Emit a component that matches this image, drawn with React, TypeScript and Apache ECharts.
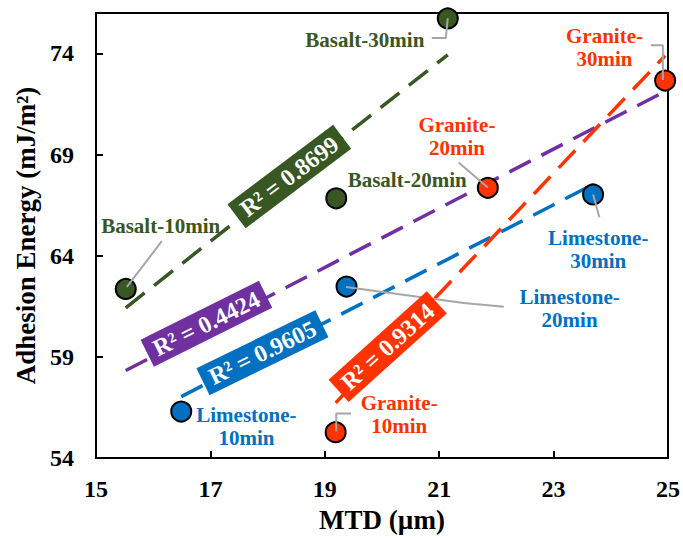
import React, { useEffect, useRef } from "react";
import * as echarts from "echarts";

// ---- data ----
const basaltX = [15.52, 19.2, 21.15];
const basaltY = [62.36, 66.84, 75.73];
const graniteX = [19.19, 21.85, 24.95];
const graniteY = [55.28, 67.36, 72.66];
const limestoneX = [16.49, 19.38, 23.69];
const limestoneY = [56.3, 62.48, 67.03];

// trendline endpoints
const basaltTrend = [[15.52, 61.43], [21.15, 73.93]];
const graniteTrend = [[19.19, 56.73], [24.95, 73.89]];
const limestoneTrend = [[16.49, 57.04], [23.69, 67.53]];
const allTrend = [[15.52, 58.33], [24.95, 72.13]];

// R² values
const r2Basalt = "0.8699";
const r2All = "0.4424";
const r2Limestone = "0.9605";
const r2Granite = "0.9314";

// point annotation texts
const basaltNames = ["Basalt-10min", "Basalt-20min", "Basalt-30min"];
const graniteNames = ["Granite-\n10min", "Granite-\n20min", "Granite-\n30min"];
const limestoneNames = ["Limestone-\n10min", "Limestone-\n20min", "Limestone-\n30min"];

// axis ticks
const xTicks = { min: 15, max: 25, interval: 2 };
const yTicks = { min: 54, max: 76, interval: 5 };

// ---- layout (positions in value coordinates) ----
const basaltLabelPos = [[16.13, 65.46], [20.44, 67.77], [19.70, 74.66]];
const graniteLabelPos = [[20.30, 56.16], [21.31, 69.89], [23.89, 74.31]];
const limestoneLabelPos = [[17.63, 55.57], [23.28, 61.38], [23.78, 64.33]];

const leaders = [
  [[15.54, 62.46], [16.15, 64.72]],
  [[21.15, 75.74], [21.115, 74.76], [20.87, 74.76]],
  [[19.2, 55.33], [19.2, 56.21], [19.46, 56.21]],
  [[21.85, 67.38], [21.34, 68.61]],
  [[24.91, 72.69], [24.91, 74.41], [24.7, 74.41]],
  [[19.37, 62.46], [21.43, 61.67], [22.13, 61.48]],
  [[23.69, 67.03], [23.8, 65.9]],
];

const r2Boxes = [
  { pos: [18.38, 67.92], rot: 37, color: "#385723", text: r2Basalt },
  { pos: [16.93, 60.64], rot: 26.5, color: "#7030A0", text: r2All },
  { pos: [17.91, 59.21], rot: 26, color: "#0070C0", text: r2Limestone },
  { pos: [20.1, 59.51], rot: 42, color: "#FF3300", text: r2Granite },
];

const GREEN = "#385723";
const RED = "#FF3300";
const BLUE = "#0070C0";
const PURPLE = "#7030A0";
const FONT = "'Liberation Serif', 'Times New Roman', serif";

const zip = (xs: number[], ys: number[]) => xs.map((x, i) => [x, ys[i]]);

export default function App() {
  const ref = useRef<HTMLDivElement>(null);
  useEffect(() => {
    if (!ref.current) return;
    const chart = echarts.init(ref.current, undefined, { renderer: "svg" });

    const trend = (data: number[][], color: string) => ({
      type: "line",
      data,
      symbol: "none",
      silent: true,
      z: 2,
      lineStyle: { color, width: 3.5, type: [24, 12], cap: "butt", opacity: 1 },
    });
    const pts = (xs: number[], ys: number[], color: string) => ({
      type: "scatter",
      data: zip(xs, ys),
      symbol: "circle",
      symbolSize: 20,
      z: 3,
      itemStyle: { color, borderColor: "#000", borderWidth: 2, opacity: 1 },
    });
    const annot = (pos: number[][], names: string[], color: string) => ({
      type: "scatter",
      silent: true,
      symbolSize: 0,
      z: 5,
      itemStyle: { opacity: 1 },
      data: pos.map((p, i) => ({
        value: p,
        label: {
          show: true,
          position: "inside",
          formatter: names[i],
          color,
          opacity: 1,
          fontFamily: FONT,
          fontWeight: "bold",
          fontSize: 21,
          lineHeight: 23,
          align: "center",
          verticalAlign: "middle",
        },
      })),
    });

    const series: any[] = [
      trend(basaltTrend, GREEN),
      trend(allTrend, PURPLE),
      trend(limestoneTrend, BLUE),
      trend(graniteTrend, RED),
      pts(basaltX, basaltY, GREEN),
      pts(graniteX, graniteY, RED),
      pts(limestoneX, limestoneY, BLUE),
      ...leaders.map((l) => ({
        type: "line",
        data: l,
        symbol: "none",
        silent: true,
        z: 4,
        lineStyle: { color: "#A6A6A6", width: 2 },
      })),
      annot(basaltLabelPos, basaltNames, GREEN),
      annot(graniteLabelPos, graniteNames, RED),
      annot(limestoneLabelPos, limestoneNames, BLUE),
      {
        type: "scatter",
        silent: true,
        symbolSize: 0,
        z: 6,
        itemStyle: { opacity: 1 },
        data: r2Boxes.map((b) => ({
          value: b.pos,
          label: {
            show: true,
            position: "inside",
            formatter: "R² = " + b.text,
            rotate: b.rot,
            color: "#fff",
            opacity: 1,
            backgroundColor: b.color,
            padding: [2, 8, 1, 8],
            fontFamily: FONT,
            fontWeight: "bold",
            fontSize: 24,
            lineHeight: 27,
            align: "center",
            verticalAlign: "middle",
          },
        })),
      },
    ];

    chart.setOption({
      animation: false,
      backgroundColor: "#fff",
      grid: {
        left: 96,
        right: 13,
        top: 13,
        bottom: 78,
        show: true,
        borderColor: "#000",
        borderWidth: 2,
        backgroundColor: "transparent",
      },
      xAxis: {
        type: "value",
        min: xTicks.min,
        max: xTicks.max,
        interval: xTicks.interval,
        name: "MTD (µm)",
        nameLocation: "middle",
        nameGap: 47,
        nameTextStyle: { fontFamily: FONT, fontWeight: "bold", fontSize: 27, color: "#000" },
        axisLine: { show: true, lineStyle: { color: "#000", width: 2 } },
        axisTick: { show: true, inside: true, length: 7, lineStyle: { color: "#000", width: 2 } },
        axisLabel: { fontFamily: FONT, fontWeight: "bold", fontSize: 24, color: "#000", margin: 19 },
        splitLine: { show: false },
      },
      yAxis: {
        type: "value",
        min: yTicks.min,
        max: yTicks.max,
        interval: yTicks.interval,
        name: "Adhesion Energy (mJ/m²)",
        nameLocation: "middle",
        nameGap: 51,
        nameRotate: 90,
        nameTextStyle: { fontFamily: FONT, fontWeight: "bold", fontSize: 27, color: "#000" },
        axisLine: { show: true, lineStyle: { color: "#000", width: 2 } },
        axisTick: { show: true, inside: true, length: 7, lineStyle: { color: "#000", width: 2 } },
        axisLabel: {
          fontFamily: FONT,
          fontWeight: "bold",
          fontSize: 24,
          color: "#000",
          margin: 22,
          showMaxLabel: false,
        },
        splitLine: { show: false },
      },
      series,
    });
    return () => chart.dispose();
  }, []);
  return (
    <div
      ref={ref}
      style={{ position: "fixed", left: 0, top: 0, width: 683, height: 538, background: "#fff" }}
    />
  );
}
